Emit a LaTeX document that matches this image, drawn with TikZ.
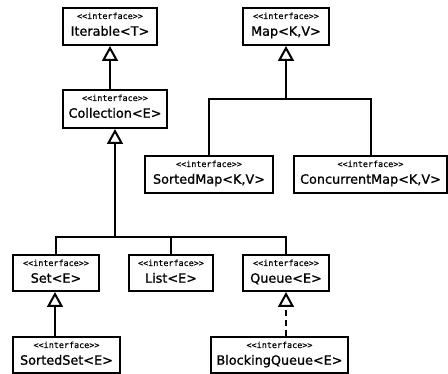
\documentclass[tikz,border=0pt]{standalone}
\usepackage{fontspec}
\usetikzlibrary{arrows.meta}
\newfontfamily\stereofont[FakeBold=0.5]{DejaVu Sans Mono}
\newfontfamily\namefont[FakeBold=1]{DejaVu Sans}

\tikzset{
  ibox/.style={draw, line width=2pt, inner sep=0pt, minimum height=#1pt, fill=white},
  stereo/.style={anchor=base, inner sep=0pt, font=\stereofont\fontsize{8.4}{9}\selectfont},
  tname/.style={anchor=base, inner sep=0pt, font=\namefont\fontsize{12.8}{14}\selectfont},
  conn/.style={line width=2pt, line join=miter},
  inh/.style={conn, -{Triangle[open, length=15pt, width=16pt, line width=2pt]}},
  realize/.style={inh, dash pattern=on 6pt off 4pt},
}

% box: name, centre x, top y, width, height, title
\newcommand\umlbox[6]{%
  \node[ibox=#5, minimum width=#4pt, anchor=north] (#1) at (#2,#3) {};
  \node[stereo] at ([yshift=-12pt]#1.north) {<{}<interface>{}>};
  \node[tname] at ([yshift=-28.7pt]#1.north) {#6};
}

\begin{document}
\begin{tikzpicture}[x=1pt, y=-1pt]
  \fill[white] (0,0) rectangle (448,374);
  \useasboundingbox (0,0) rectangle (448,374);

  \umlbox{iter}{110}{7}{94}{37}{Iterable<T>}
  \umlbox{coll}{115}{89}{104}{38}{Collection<E>}
  \umlbox{map}{286}{7}{86}{37}{Map<K,V>}
  \umlbox{smap}{209}{155}{128}{37}{SortedMap<K,V>}
  \umlbox{cmap}{370.5}{155}{153}{37}{ConcurrentMap<K,V>}
  \umlbox{set}{56}{254}{86}{36}{Set<E>}
  \umlbox{list}{171}{254}{84}{36}{List<E>}
  \umlbox{queue}{286}{254}{86}{36}{Queue<E>}
  \umlbox{sset}{66.5}{336}{107}{36.5}{SortedSet<E>}
  \umlbox{bq}{279.5}{336}{137}{36.5}{BlockingQueue<E>}

  % junction points of the shared arrows
  \coordinate (cbar) at (115,237);
  \coordinate (mbar) at (286,99);

  % Collection extends Iterable
  \draw[inh] (iter.south |- coll.north) -- (iter.south);

  % Set, List and Queue extend Collection
  \draw[inh] (cbar) -- (coll.south);
  \draw[conn] (set.north) |- (queue.north |- cbar) -- (queue.north);
  \draw[conn] (list.north) -- (list.north |- cbar);

  % SortedMap and ConcurrentMap extend Map
  \draw[inh] (mbar) -- (map.south);
  \draw[conn] (smap.north) |- (cmap.north |- mbar) -- (cmap.north);

  % SortedSet extends Set
  \draw[inh] ([xshift=-1pt]set.south |- sset.north) -- ([xshift=-1pt]set.south);

  % BlockingQueue extends Queue
  \draw[realize] (queue.south |- bq.north) -- (queue.south);
\end{tikzpicture}
\end{document}
